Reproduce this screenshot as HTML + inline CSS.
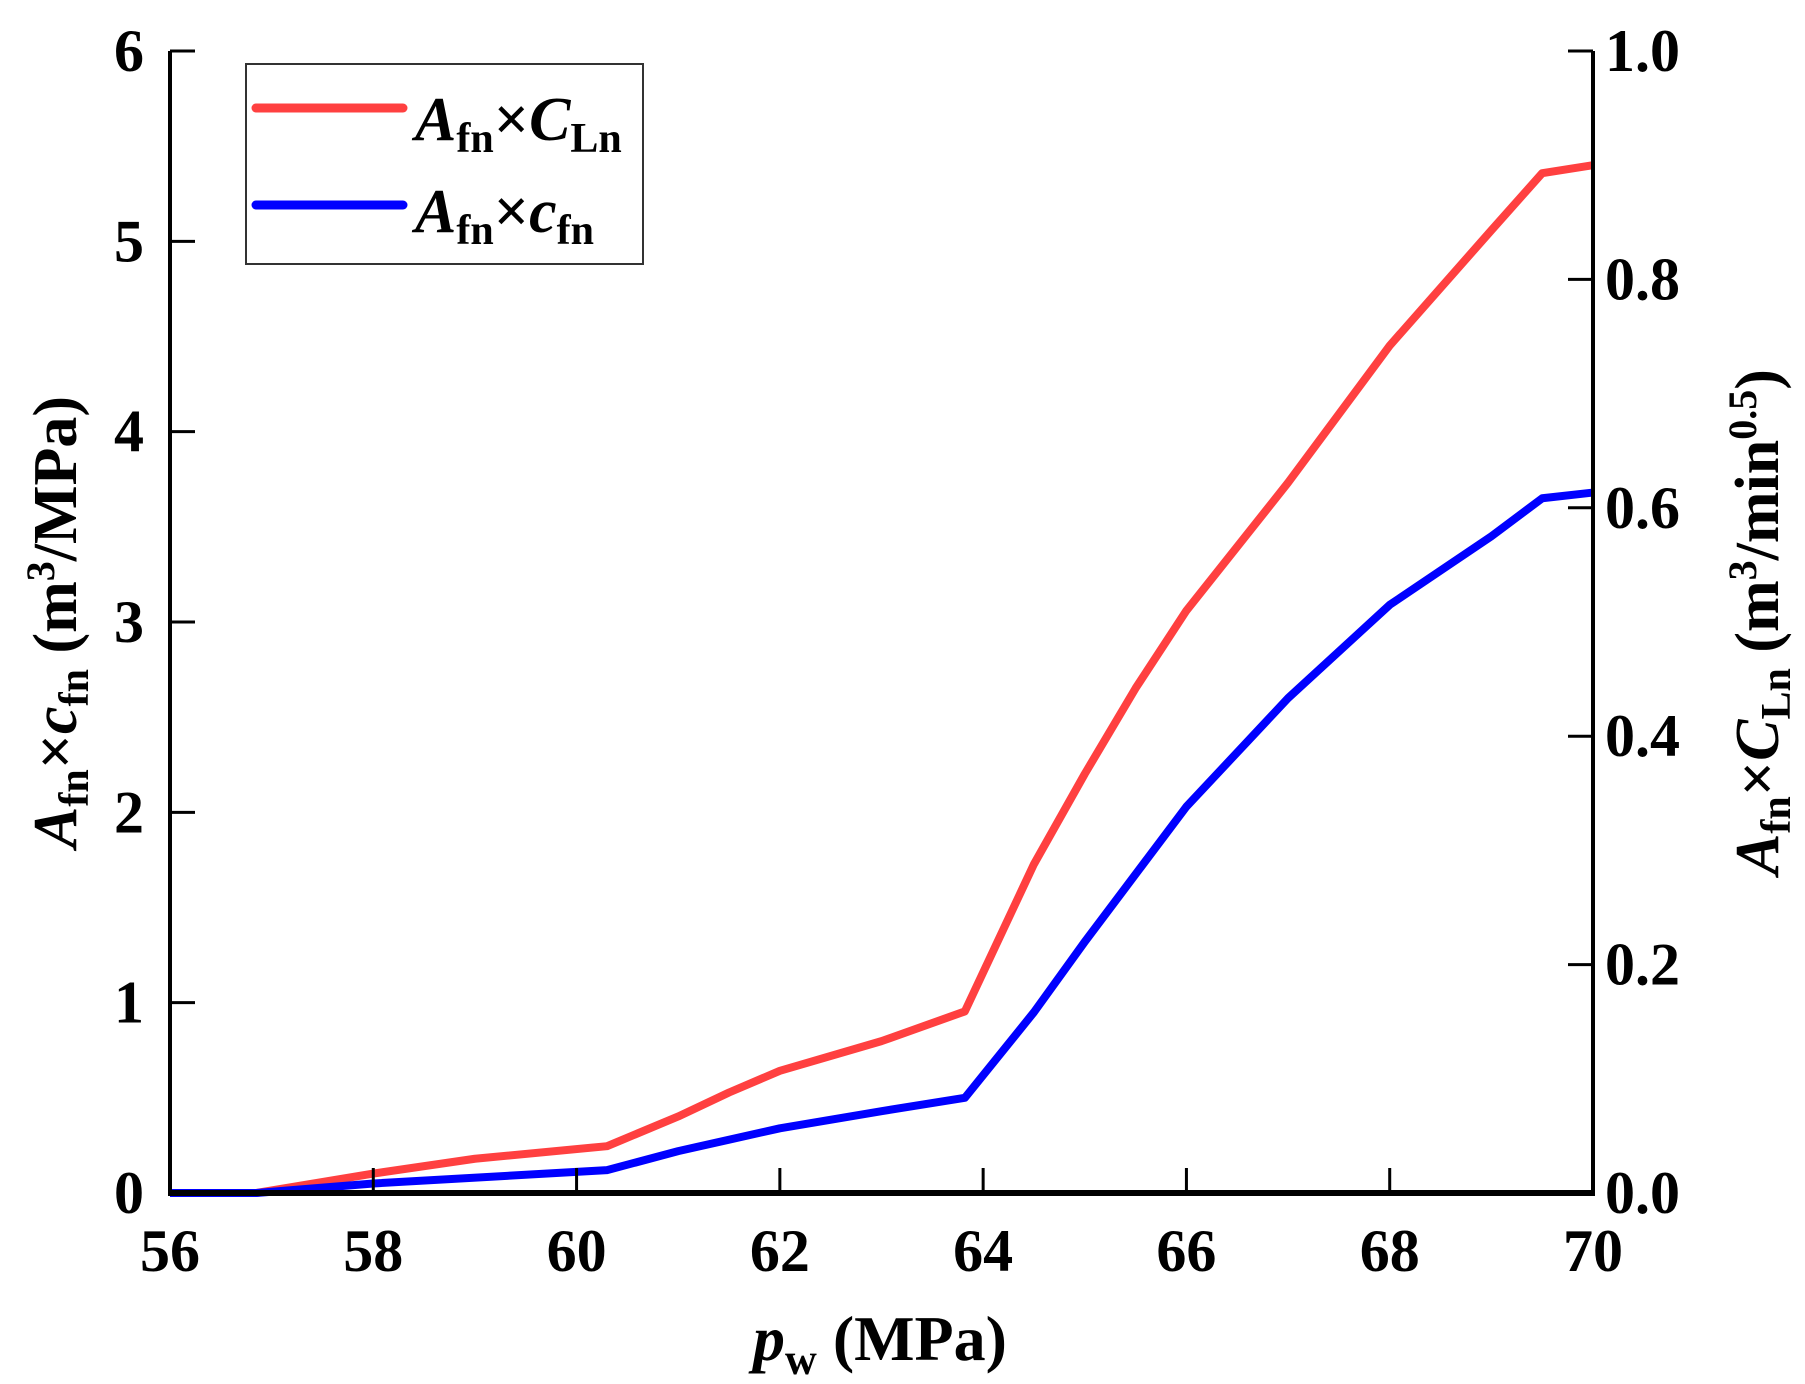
<!DOCTYPE html>
<html><head><meta charset="utf-8"><style>
body{margin:0;background:#fff}
svg{display:block;font-family:"Liberation Serif",serif;font-weight:bold}
</style></head><body>
<svg id="chart" width="1805" height="1384" viewBox="0 0 1805 1384">
<g id="marks"></g>
<g id="axes"></g>
<g>
<rect x="246" y="64" width="397" height="200" fill="#fff" stroke="#333" stroke-width="2"/>
<line x1="256" y1="108" x2="403" y2="108" stroke="#ff4040" stroke-width="9" stroke-linecap="round"/>
<line x1="256" y1="205" x2="403" y2="205" stroke="#0000ff" stroke-width="9" stroke-linecap="round"/>
<text x="415" y="140" font-size="62"><tspan font-style="italic">A</tspan><tspan font-size="42" dy="12">fn</tspan><tspan dy="-12">×</tspan><tspan font-style="italic">C</tspan><tspan font-size="42" dy="12">Ln</tspan></text>
<text x="415" y="232" font-size="62"><tspan font-style="italic">A</tspan><tspan font-size="42" dy="12">fn</tspan><tspan dy="-12">×</tspan><tspan font-style="italic">c</tspan><tspan font-size="42" dy="12">fn</tspan></text>
</g>
<text x="880" y="1360" text-anchor="middle" font-size="64"><tspan font-style="italic">p</tspan><tspan font-size="44" dy="14">w</tspan><tspan dy="-14"> (MPa)</tspan></text>
<text transform="translate(76,622) rotate(-90)" text-anchor="middle" font-size="62"><tspan font-style="italic">A</tspan><tspan font-size="42" dy="12">fn</tspan><tspan dy="-12">×</tspan><tspan font-style="italic">c</tspan><tspan font-size="42" dy="12">fn</tspan><tspan dy="-12"> (m</tspan><tspan font-size="40" dy="-22">3</tspan><tspan dy="22">/MPa)</tspan></text>
<text transform="translate(1778,622) rotate(-90)" text-anchor="middle" font-size="62"><tspan font-style="italic">A</tspan><tspan font-size="42" dy="12">fn</tspan><tspan dy="-12">×</tspan><tspan font-style="italic">C</tspan><tspan font-size="42" dy="12">Ln</tspan><tspan dy="-12"> (m</tspan><tspan font-size="40" dy="-22">3</tspan><tspan dy="22">/min</tspan><tspan font-size="40" dy="-22">0.5</tspan><tspan dy="22">)</tspan></text>
</svg>
<script>
const xTicks=[56,58,60,62,64,66,68,70];
const yLeftTicks=[0,1,2,3,4,5,6];
const yRightTicks=["0.0","0.2","0.4","0.6","0.8","1.0"];
const redX=[56,56.85,58,59,60.3,61,61.5,62,63,63.82,64.5,65,65.5,66,67,68,69,69.5,70];
const redY=[0,0,0.017,0.03,0.041,0.067,0.088,0.107,0.133,0.159,0.288,0.367,0.442,0.51,0.622,0.742,0.843,0.893,0.9];
const blueX=[56,56.85,58,60.3,61,62,63,63.82,64.5,65,66,67,68,69,69.5,70];
const blueY=[0,0,0.05,0.12,0.22,0.34,0.43,0.5,0.95,1.32,2.03,2.6,3.09,3.45,3.65,3.68];
const L=170,R=1593,T=51,B=1193;
const sx=v=>L+(v-56)/14*(R-L);
const syL=v=>B-v/6*(B-T);
const syR=v=>B-v*(B-T);
const NS="http://www.w3.org/2000/svg";
const marks=document.getElementById('marks'),axes=document.getElementById('axes');
function mk(tag,attrs,parent){const e=document.createElementNS(NS,tag);for(const k in attrs)e.setAttribute(k,attrs[k]);parent.appendChild(e);return e;}
let p=mk('polyline',{points:redX.map((x,i)=>sx(x)+','+syR(redY[i])).join(' '),fill:'none',stroke:'#ff4040','stroke-width':8,'stroke-linejoin':'round'},marks);


p=mk('polyline',{points:blueX.map((x,i)=>sx(x)+','+syL(blueY[i])).join(' '),fill:'none',stroke:'#0000ff','stroke-width':8,'stroke-linejoin':'round'},marks);


let a=mk('line',{x1:L,y1:T,x2:L,y2:B+3,stroke:'#000','stroke-width':4},axes);


a=mk('line',{x1:R,y1:T,x2:R,y2:B+3,stroke:'#000','stroke-width':4},axes);


a=mk('line',{x1:L-2,y1:B,x2:R+2,y2:B,stroke:'#000','stroke-width':6},axes);


xTicks.forEach(v=>{
 const t=mk('line',{x1:sx(v),y1:B,x2:sx(v),y2:B-25,stroke:'#000','stroke-width':3},axes);
 
 
 const l=mk('text',{x:sx(v),y:B+78,'text-anchor':'middle','font-size':60},axes);l.textContent=v;
 
 
});
yLeftTicks.forEach(v=>{
 const t=mk('line',{x1:L,y1:syL(v),x2:L+25,y2:syL(v),stroke:'#000','stroke-width':3},axes);
 
 
 const l=mk('text',{x:L-26,y:syL(v)+20,'text-anchor':'end','font-size':60},axes);l.textContent=v;
 
 
});
yRightTicks.forEach(v=>{
 const t=mk('line',{x1:R,y1:syR(+v),x2:R-25,y2:syR(+v),stroke:'#000','stroke-width':3},axes);
 
 
 const l=mk('text',{x:R+12,y:syR(+v)+20,'text-anchor':'start','font-size':60},axes);l.textContent=v;
 
 
});
</script>
</body></html>
